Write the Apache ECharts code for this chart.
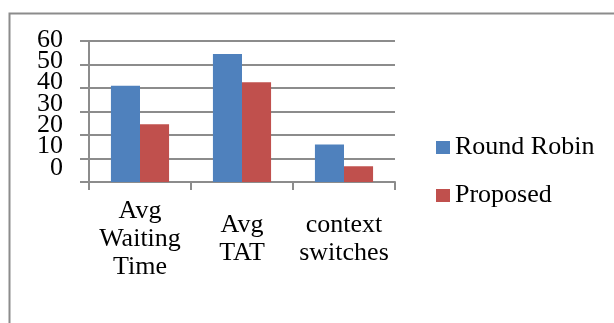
<!DOCTYPE html>
<html>
<head>
<meta charset="utf-8">
<script src="https://cdn.jsdelivr.net/npm/echarts@6/dist/echarts.min.js"></script>
<style>
html,body{margin:0;padding:0;background:#fff;}
#chart{width:614px;height:323px;}
</style>
</head>
<body>
<div id="chart"></div>
<script>
var categories = ['Avg\nWaiting\nTime', 'Avg\nTAT', 'context\nswitches'];
var seriesNames = ['Round Robin', 'Proposed'];
var roundRobin = [41, 54.5, 16];
var proposed = [24.6, 42.5, 6.7];
// tick labels, drawn in two interleaved sets (0,20,40,60) and (10,30,50)
var yTicksEven = [0, 20, 40, 60];
var yTicksOdd = [10, 30, 50];

var FONT = '"Liberation Serif", "Times New Roman", serif';
var LINE = '#8c8c8c';

var chart = echarts.init(document.getElementById('chart'), null, {renderer: 'canvas'});

function labelAxis(gridIndex, ticks) {
  return {
    type: 'value',
    gridIndex: gridIndex,
    min: ticks[0], max: ticks[ticks.length - 1], interval: ticks[1] - ticks[0],
    axisLine: {show: false},
    axisTick: {show: false},
    splitLine: {show: false},
    axisLabel: {show: true, fontFamily: FONT, fontSize: 26, color: '#000', margin: 26}
  };
}

var option = {
  backgroundColor: '#ffffff',
  animation: false,
  textStyle: {fontFamily: FONT, color: '#000'},
  graphic: [{
    type: 'rect',
    left: 7, top: 11,
    shape: {width: 700, height: 400},
    style: {fill: 'none', stroke: LINE, lineWidth: 2},
    silent: true
  }],
  legend: {
    orient: 'vertical',
    left: 436,
    top: 134,
    padding: 0,
    itemWidth: 14,
    itemHeight: 13,
    itemGap: 21,
    icon: 'rect',
    textStyle: {fontFamily: FONT, fontSize: 26, color: '#000', lineHeight: 27},
    data: seriesNames
  },
  grid: [
    {left: 89, right: 219, top: 41, bottom: 141},
    {left: 89, right: 219, top: 40, height: 128},
    {left: 89, right: 219, top: 61.33, height: 85.33}
  ],
  xAxis: [
    {
      type: 'category',
      gridIndex: 0,
      data: categories,
      axisLine: {show: true, lineStyle: {color: LINE, width: 2}},
      axisTick: {show: true, length: 8, alignWithLabel: false, lineStyle: {color: LINE, width: 2}},
      axisLabel: {
        interval: 0,
        fontFamily: FONT,
        fontSize: 26,
        color: '#000',
        lineHeight: 28,
        verticalAlign: 'middle',
        margin: 57
      }
    },
    {type: 'category', gridIndex: 1, data: categories, show: false},
    {type: 'category', gridIndex: 2, data: categories, show: false}
  ],
  yAxis: [
    {
      type: 'value',
      gridIndex: 0,
      min: 0, max: 60, interval: 10,
      axisLine: {show: true, lineStyle: {color: LINE, width: 2}},
      axisTick: {show: true, length: 9, lineStyle: {color: LINE, width: 2}},
      axisLabel: {show: false},
      splitLine: {show: true, lineStyle: {color: LINE, width: 2}}
    },
    labelAxis(1, yTicksEven),
    labelAxis(2, yTicksOdd)
  ],
  series: [
    {
      name: seriesNames[0],
      type: 'bar',
      xAxisIndex: 0, yAxisIndex: 0,
      data: roundRobin,
      barGap: '0%',
      barCategoryGap: '43%',
      itemStyle: {color: '#4f81bd'}
    },
    {
      name: seriesNames[1],
      type: 'bar',
      xAxisIndex: 0, yAxisIndex: 0,
      data: proposed,
      barGap: '0%',
      barCategoryGap: '43%',
      itemStyle: {color: '#c0504d'}
    }
  ]
};
chart.setOption(option);
</script>
</body>
</html>
